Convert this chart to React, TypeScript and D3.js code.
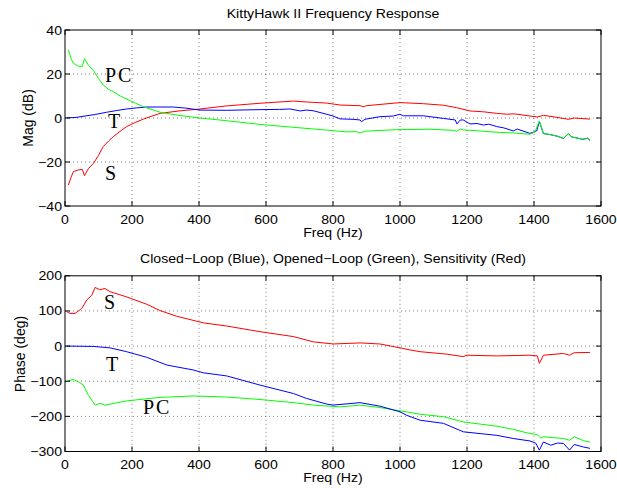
import * as d3 from "d3";

// [freq Hz, value]
const magS: [number, number][] = [[10,-30.5],[18,-27],[25,-24.4],[40,-23.6],[52,-23.4],[58,-26.2],[70,-23],[85,-20.6],[100,-17],[114,-13],[130,-10.5],[144,-8.5],[165,-6],[184,-3.9],[210,-2],[234,-0.5],[260,0.9],[284,2.1],[340,3.2],[403,4.1],[483,5.5],[582,6.7],[682,7.7],[720,7.3],[741,7.1],[780,6.8],[821,5.9],[881,5.6],[890,5.1],[900,5.6],[1000,7],[1070,6.5],[1130,5.8],[1169,4.7],[1209,3.2],[1250,2.8],[1289,2.1],[1320,1.7],[1340,1.9],[1388,0.9],[1410,0.5],[1428,1.2],[1460,0.5],[1503,-0.6],[1520,0],[1567,-0.5]];
const magT: [number, number][] = [[5,0.1],[30,0.2],[60,0.9],[90,1.6],[124,2.6],[154,3.4],[184,4.1],[214,4.6],[244,5],[323,5],[360,4.5],[403,3.6],[483,3.5],[582,3.8],[640,3.9],[672,4.1],[702,3.2],[720,3.6],[741,3.3],[781,1.7],[800,0.9],[821,-0.4],[860,-0.6],[881,-0.9],[885,-1.7],[895,-0.6],[940,0.6],[980,0.9],[1000,1.7],[1010,1.0],[1070,1],[1130,-0.2],[1165,-0.9],[1170,-2.7],[1180,-0.9],[1189,-0.9],[1209,-2.7],[1230,-2.5],[1249,-3.2],[1265,-2.8],[1289,-3.9],[1310,-4.5],[1338,-5.9],[1350,-5.0],[1388,-7],[1408,-5.9],[1416,-1.6],[1428,-7.1],[1450,-7.6],[1470,-8.3],[1488,-9.3],[1503,-7.1],[1512,-8.6],[1525,-9],[1545,-9.7],[1560,-9.2],[1567,-10.2]];
const magPC: [number, number][] = [[10,31],[18,27],[25,25],[40,23.5],[52,23.5],[58,27],[70,24],[85,21.5],[100,18],[114,15],[130,13],[144,12],[165,10],[184,8.6],[210,6.8],[234,5.1],[260,3.8],[284,2.6],[340,1.2],[403,0],[480,-1.2],[582,-2.9],[680,-4.2],[781,-5.5],[840,-6.3],[870,-6.2],[881,-6.8],[895,-6.0],[990,-5.3],[1090,-5.1],[1160,-5.6],[1169,-6.1],[1180,-5.0],[1189,-5.4],[1230,-5.8],[1289,-6.5],[1340,-6.8],[1388,-7.4],[1403,-6.3],[1416,-1.4],[1428,-7],[1450,-7.6],[1470,-8.3],[1488,-9.2],[1503,-7],[1512,-8.6],[1525,-9],[1545,-9.6],[1560,-9.3],[1567,-10]];

const phS: [number, number][] = [[5,98],[15,93],[30,93],[50,107],[65,131],[80,145],[90,167],[104,160],[119,164],[134,155],[184,140],[244,119],[284,101],[333,85],[413,66],[483,57],[582,41],[682,27],[741,12],[801,6],[881,9],[940,6],[1000,-5],[1030,-11],[1060,-16],[1140,-23],[1189,-30],[1200,-26],[1289,-28],[1388,-26],[1410,-28],[1416,-49],[1428,-26],[1488,-21],[1506,-26],[1520,-19],[1567,-18]];
const phT: [number, number][] = [[5,0],[85,-1],[134,-5],[184,-16],[244,-32],[304,-54],[383,-68],[413,-76],[483,-85],[582,-111],[682,-135],[721,-149],[781,-165],[800,-168],[881,-161],[940,-171],[1000,-187],[1020,-197],[1060,-211],[1130,-220],[1189,-244],[1239,-249],[1289,-254],[1338,-263],[1388,-270],[1405,-276],[1416,-296],[1428,-273],[1450,-282],[1470,-276],[1488,-277],[1506,-296],[1520,-280],[1547,-287],[1567,-291]];
const phPC: [number, number][] = [[5,-100],[25,-95],[40,-102],[55,-111],[70,-140],[90,-168],[104,-163],[119,-168],[184,-156],[284,-146],[383,-142],[483,-145],[582,-152],[682,-161],[741,-168],[821,-173],[881,-168],[940,-175],[1000,-184],[1060,-194],[1130,-201],[1189,-216],[1239,-222],[1289,-228],[1338,-237],[1388,-249],[1410,-252],[1420,-262],[1428,-258],[1488,-263],[1506,-268],[1520,-258],[1547,-269],[1567,-273]];

const freqTicks = [0, 200, 400, 600, 800, 1000, 1200, 1400, 1600];
const magTicks = [-40, -20, 0, 20, 40];
const phaseTicks = [-300, -200, -100, 0, 100, 200];

const sans = "Liberation Sans, Arial, Helvetica, sans-serif";
const serif = "Liberation Serif, Times New Roman, serif";

// horizontally stretched label text, like the source image
function Lbl({ x, y, anchor, children, size = 12.5 }: { x: number; y: number; anchor: string; children: any; size?: number }) {
  return (
    <text transform={`translate(${x},${y}) scale(1.13,1)`} textAnchor={anchor} fontSize={size} fontFamily={sans}>
      {children}
    </text>
  );
}

interface PanelProps {
  top: number;
  bottom: number;
  yDomain: [number, number];
  yTicks: number[];
  series: { data: [number, number][]; color: string }[];
  title: string;
  yLabel: string;
  yLabelPos: [number, number];
  labels: { text: string; x: number; y: number }[];
}

const X0 = 65;
const X1 = 601;

function Panel({ top, bottom, yDomain, yTicks, series, title, yLabel, yLabelPos, labels }: PanelProps) {
  const x = d3.scaleLinear().domain([0, 1600]).range([X0, X1]);
  const y = d3.scaleLinear().domain(yDomain).range([bottom, top]);
  const line = d3.line<[number, number]>().x((d) => x(d[0])).y((d) => y(d[1]));
  const tl = 5;
  return (
    <g>
      {freqTicks.slice(1, -1).map((t) => (
        <line key={"gx" + t} x1={x(t)} x2={x(t)} y1={top} y2={bottom} stroke="#000" strokeWidth={0.5} strokeDasharray="1,3" />
      ))}
      {yTicks.slice(1, -1).map((t) => (
        <line key={"gy" + t} x1={X0} x2={X1} y1={y(t)} y2={y(t)} stroke="#000" strokeWidth={0.5} strokeDasharray="1,3" />
      ))}
      {series.map((s, i) => (
        <path key={i} d={line(s.data) || ""} fill="none" stroke={s.color} strokeWidth={1} />
      ))}
      <rect x={X0} y={top} width={X1 - X0} height={bottom - top} fill="none" stroke="#000" strokeWidth={1} />
      {freqTicks.map((t) => (
        <g key={"tx" + t}>
          <line x1={x(t)} x2={x(t)} y1={bottom} y2={bottom - tl} stroke="#000" />
          <line x1={x(t)} x2={x(t)} y1={top} y2={top + tl} stroke="#000" />
          <Lbl x={x(t)} y={bottom + 17.5} anchor="middle">{t}</Lbl>
        </g>
      ))}
      {yTicks.map((t) => (
        <g key={"ty" + t}>
          <line x1={X0} x2={X0 + tl} y1={y(t)} y2={y(t)} stroke="#000" />
          <line x1={X1} x2={X1 - tl} y1={y(t)} y2={y(t)} stroke="#000" />
          <Lbl x={X0 - 3} y={y(t) + 4.5} anchor="end">{t < 0 ? "\u2212" + Math.abs(t) : String(t)}</Lbl>
        </g>
      ))}
      <Lbl x={(X0 + X1) / 2} y={bottom + 30.5} anchor="middle">Freq (Hz)</Lbl>
      <Lbl x={(X0 + X1) / 2} y={top - 12.5} anchor="middle">{title}</Lbl>
      <text transform={`translate(${yLabelPos[0]},${yLabelPos[1]}) rotate(-90)`} textAnchor="middle" fontSize={14} fontFamily={sans}>{yLabel}</text>
      {labels.map((l) => (
        <text key={l.text} x={l.x} y={l.y} fontSize={20} fontFamily={serif} letterSpacing={2}>{l.text}</text>
      ))}
    </g>
  );
}

export default function App() {
  return (
    <svg width={617} height={488} style={{ position: "absolute", left: 0, top: 0, background: "#fff" }}>
      <rect width={617} height={488} fill="#fff" />
      <Panel
        top={30}
        bottom={206}
        yDomain={[-40, 40]}
        yTicks={magTicks}
        title="KittyHawk II Frequency Response"
        yLabel="Mag (dB)"
        yLabelPos={[33, 118]}
        series={[
          { data: magS, color: "#ff0000" },
          { data: magT, color: "#0000ff" },
          { data: magPC, color: "#00ff00" },
        ]}
        labels={[
          { text: "PC", x: 105, y: 82 },
          { text: "T", x: 108, y: 128 },
          { text: "S", x: 105, y: 180 },
        ]}
      />
      <Panel
        top={275.8}
        bottom={451.5}
        yDomain={[-300, 200]}
        yTicks={phaseTicks}
        title={"Closed\u2212Loop (Blue), Opened\u2212Loop (Green), Sensitivity (Red)"}
        yLabel="Phase (deg)"
        yLabelPos={[25, 354]}
        series={[
          { data: phS, color: "#ff0000" },
          { data: phPC, color: "#00ff00" },
          { data: phT, color: "#0000ff" },
        ]}
        labels={[
          { text: "S", x: 104, y: 309 },
          { text: "T", x: 106, y: 371 },
          { text: "PC", x: 143, y: 414 },
        ]}
      />
    </svg>
  );
}
